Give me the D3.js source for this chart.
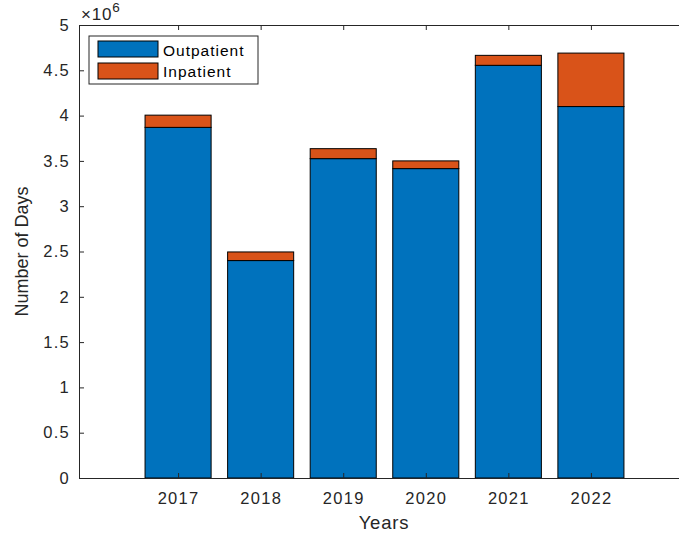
<!DOCTYPE html>
<html>
<head>
<meta charset="utf-8">
<script src="https://cdn.jsdelivr.net/npm/d3@7"></script>
<style>
  body { margin: 0; background: #fff; }
  svg { display: block; font-family: "Liberation Sans", Arial, sans-serif; }
</style>
</head>
<body>
<svg id="chart"></svg>
<script>
const years = ['2017', '2018', '2019', '2020', '2021', '2022'];
const outpatient = [3.87e6, 2.40e6, 3.525e6, 3.415e6, 4.555e6, 4.10e6];
const inpatient = [0.135e6, 0.095e6, 0.11e6, 0.085e6, 0.11e6, 0.59e6];
const yTicks = [0, 0.5, 1, 1.5, 2, 2.5, 3, 3.5, 4, 4.5, 5];
const seriesNames = ['Outpatient', 'Inpatient'];
const colors = ['#0072BD', '#D95319'];

const svgWidth = 679;
const svgHeight = 533;
const plotLeft = 79, plotRight = 690, plotTop = 25, plotBottom = 478;
const textColor = '#262626';
const font = '"Liberation Sans", Arial, sans-serif';

const svg = d3.select('#chart')
  .attr('width', svgWidth)
  .attr('height', svgHeight);

// numeric x so the axis runs from 2015.8 to 2023.2 like MATLAB
const xScale = d3.scaleLinear()
  .domain([2015.8, 2023.2])
  .range([plotLeft, plotRight]);

const yScale = d3.scaleLinear()
  .domain([0, 5e6])
  .range([plotBottom, plotTop]);

const barWidth = (xScale(1) - xScale(0)) * 0.8;

const stacked = d3.stack().keys([0, 1])(years.map((y, i) => [outpatient[i], inpatient[i]]));

svg.append('g')
  .selectAll('g')
  .data(stacked)
  .enter()
  .append('g')
  .attr('fill', (d, i) => colors[i])
  .selectAll('rect')
  .data(d => d)
  .enter()
  .append('rect')
  .attr('x', (d, i) => xScale(+years[i]) - barWidth / 2)
  .attr('width', barWidth)
  .attr('y', d => yScale(d[1]))
  .attr('height', d => yScale(d[0]) - yScale(d[1]))
  .attr('stroke', '#000')
  .attr('stroke-width', 1);

// axes
const xAxis = d3.axisBottom(xScale)
  .tickValues(years.map(Number))
  .tickFormat(d3.format('d'))
  .tickSize(-5)
  .tickSizeOuter(0)
  .tickPadding(14);

svg.append('g')
  .attr('class', 'axis')
  .attr('transform', 'translate(0,' + plotBottom + ')')
  .call(xAxis);

const yAxis = d3.axisLeft(yScale)
  .tickValues(yTicks.map(v => v * 1e6))
  .tickFormat(d => d3.format('~g')(d / 1e6))
  .tickSize(-5)
  .tickSizeOuter(0)
  .tickPadding(9);

svg.append('g')
  .attr('class', 'axis')
  .attr('transform', 'translate(' + plotLeft + ',0)')
  .call(yAxis);

const topAxis = d3.axisTop(xScale)
  .tickValues(years.map(Number))
  .tickFormat('')
  .tickSize(-5)
  .tickSizeOuter(0);

svg.append('g')
  .attr('transform', 'translate(0,' + plotTop + ')')
  .call(topAxis);

svg.selectAll('.domain, .tick line').attr('stroke', textColor);
svg.selectAll('.axis')
  .attr('font-family', font)
  .attr('font-size', 16.5);
svg.selectAll('.tick text')
  .attr('fill', textColor)
  .style('letter-spacing', '1.3px');

// exponent label
const expo = svg.append('text')
  .attr('x', plotLeft + 2)
  .attr('y', 20)
  .attr('fill', textColor)
  .style('font-size', '17px')
  .style('letter-spacing', '0.8px');
expo.append('tspan').text('\u00d710');
expo.append('tspan').attr('dy', -8).style('font-size', '13.5px').text('6');

// axis titles
svg.append('text')
  .attr('x', 384)
  .attr('y', 529)
  .attr('text-anchor', 'middle')
  .attr('fill', textColor)
  .style('font-size', '18.5px')
  .style('letter-spacing', '0.8px')
  .text('Years');

svg.append('text')
  .attr('transform', 'translate(28,' + ((plotTop + plotBottom) / 2) + ') rotate(-90)')
  .attr('text-anchor', 'middle')
  .attr('fill', textColor)
  .style('font-size', '18px')
  .text('Number of Days');

// legend
const legend = svg.append('g').attr('transform', 'translate(89,36)');
legend.append('rect')
  .attr('width', 169)
  .attr('height', 48)
  .attr('fill', '#fff')
  .attr('stroke', textColor)
  .attr('stroke-width', 1);

seriesNames.forEach((name, i) => {
  legend.append('rect')
    .attr('x', 9)
    .attr('y', 5 + i * 22)
    .attr('width', 60)
    .attr('height', 16)
    .attr('fill', colors[i])
    .attr('stroke', '#000');
  legend.append('text')
    .attr('x', 74)
    .attr('y', 20 + i * 21)
    .attr('fill', '#000')
    .style('font-size', '15.5px')
    .style('letter-spacing', '1px')
    .text(name);
});
</script>
</body>
</html>
